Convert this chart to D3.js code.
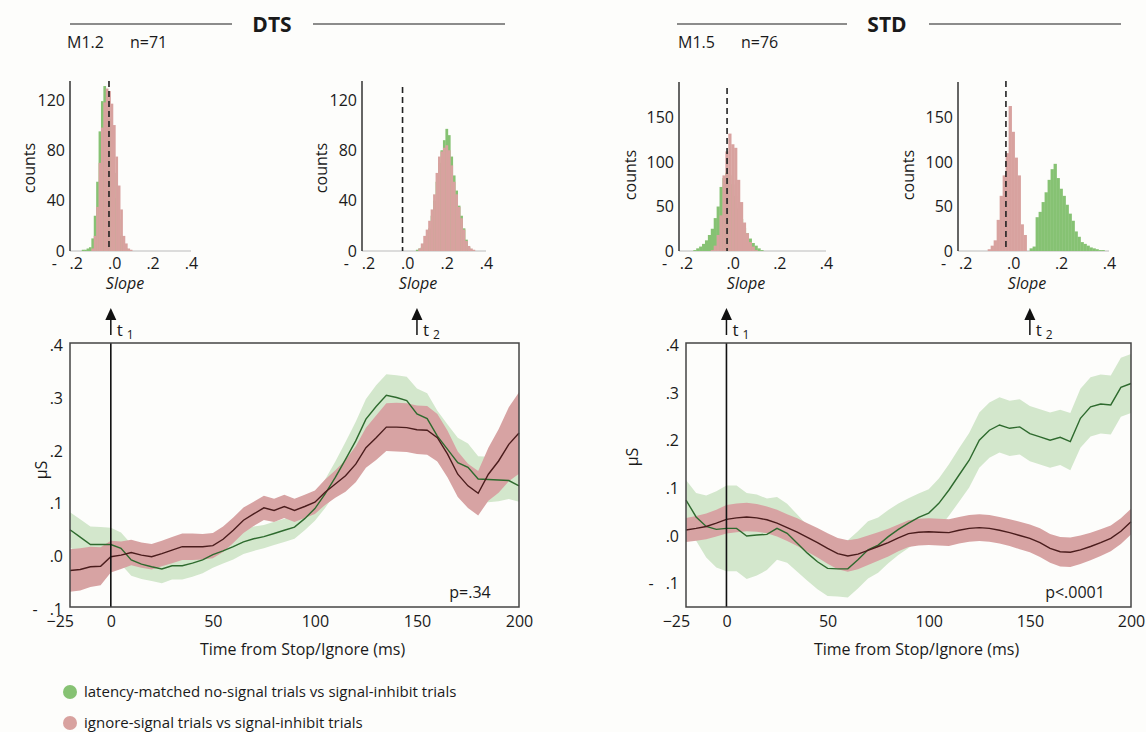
<!DOCTYPE html>
<html><head><meta charset="utf-8">
<script src="https://cdn.jsdelivr.net/npm/d3@7"></script>
<style>
body{margin:0;background:#fdfdfb}
text{font-family:"Open Sans",sans-serif;fill:#1a1a1a}
</style>
</head><body>
<svg id="c" width="1146" height="732"></svg>
<script>
// ---------- time-course data (µS) ----------
const timeMs = [-20,-15,-10,-5,0,5,10,15,20,25,30,35,40,45,50,55,60,65,70,75,80,85,90,95,100,105,110,115,120,125,130,135,140,145,150,155,160,165,170,175,180,185,190,195,200];

const dtsGreenMean = [0.051,0.037,0.023,0.023,0.023,0.016,-0.006,-0.014,-0.019,-0.023,-0.017,-0.017,-0.012,-0.006,0.004,0.011,0.019,0.028,0.034,0.038,0.044,0.050,0.056,0.072,0.091,0.119,0.150,0.184,0.219,0.260,0.284,0.305,0.301,0.295,0.270,0.261,0.228,0.203,0.178,0.169,0.147,0.146,0.145,0.144,0.134];
const dtsGreenErr  = [0.033,0.034,0.034,0.033,0.032,0.030,0.030,0.028,0.027,0.027,0.026,0.026,0.026,0.025,0.025,0.024,0.024,0.023,0.023,0.022,0.022,0.022,0.022,0.022,0.023,0.027,0.030,0.033,0.036,0.038,0.040,0.040,0.042,0.045,0.048,0.048,0.048,0.047,0.047,0.045,0.043,0.043,0.040,0.035,0.030];
const dtsPinkMean  = [-0.026,-0.024,-0.019,-0.018,0.000,0.003,0.008,0.003,0.000,0.006,0.0125,0.019,0.019,0.019,0.021,0.033,0.050,0.069,0.081,0.0925,0.0875,0.095,0.0875,0.095,0.103,0.122,0.1375,0.153,0.175,0.206,0.225,0.245,0.245,0.244,0.240,0.239,0.225,0.194,0.156,0.134,0.120,0.156,0.181,0.2125,0.234];
const dtsPinkErr   = [0.040,0.040,0.038,0.036,0.030,0.026,0.024,0.024,0.024,0.024,0.025,0.025,0.025,0.024,0.024,0.024,0.024,0.024,0.023,0.023,0.022,0.022,0.022,0.022,0.022,0.024,0.026,0.030,0.034,0.038,0.042,0.045,0.046,0.046,0.046,0.046,0.045,0.044,0.043,0.042,0.042,0.050,0.060,0.070,0.077];

const stdGreenMean = [0.0755,0.040,0.020,0.014,0.016,0.016,0.000,0.002,0.0035,0.016,0.0056,-0.015,-0.036,-0.054,-0.068,-0.069,-0.069,-0.050,-0.029,-0.019,-0.0014,0.014,0.027,0.039,0.048,0.0685,0.0965,0.128,0.159,0.201,0.222,0.233,0.226,0.229,0.215,0.208,0.201,0.207,0.198,0.247,0.271,0.277,0.275,0.312,0.320];
const stdGreenErr  = [0.042,0.050,0.065,0.080,0.090,0.090,0.090,0.085,0.075,0.066,0.062,0.060,0.058,0.058,0.058,0.058,0.060,0.060,0.060,0.058,0.056,0.054,0.052,0.050,0.050,0.052,0.054,0.056,0.057,0.058,0.058,0.058,0.058,0.058,0.058,0.058,0.058,0.058,0.060,0.062,0.062,0.062,0.062,0.062,0.062];
const stdPinkMean  = [0.0126,0.016,0.020,0.027,0.035,0.038,0.040,0.038,0.034,0.027,0.0175,0.008,-0.003,-0.014,-0.026,-0.037,-0.042,-0.038,-0.030,-0.022,-0.014,-0.004,0.005,0.008,0.009,0.008,0.007,0.012,0.016,0.0175,0.016,0.012,0.007,0.001,-0.005,-0.014,-0.026,-0.033,-0.034,-0.029,-0.022,-0.014,-0.005,0.010,0.030];
const stdPinkErr   = [0.025,0.026,0.027,0.028,0.030,0.030,0.030,0.029,0.028,0.028,0.028,0.029,0.030,0.031,0.032,0.033,0.033,0.032,0.031,0.030,0.029,0.028,0.028,0.028,0.028,0.028,0.028,0.028,0.028,0.028,0.028,0.028,0.028,0.029,0.029,0.030,0.030,0.031,0.031,0.030,0.029,0.028,0.027,0.027,0.027];

const timeTicks = [-25,0,50,100,150,200];
const dtsYTicks = [-0.1,0,0.1,0.2,0.3,0.4];
const stdYTicks = [-0.1,0,0.1,0.2,0.3,0.4];

// ---------- bootstrap slope histograms ----------
const slopeBins = [-0.175,-0.1625,-0.15,-0.1375,-0.125,-0.1125,-0.1,-0.0875,-0.075,-0.0625,-0.05,-0.0375,-0.025,-0.0125,0,0.0125,0.025,0.0375,0.05,0.0625,0.075,0.0875,0.1,0.1125,0.125,0.1375,0.15,0.1625,0.175,0.1875,0.2,0.2125,0.225,0.2375,0.25,0.2625,0.275,0.2875,0.3,0.3125,0.325,0.3375,0.35,0.3625,0.375,0.3875];
const binWidth = 0.0125;
const dtsT1Green = [0,1,1,2,3,10,28,55,95,119,131,118,105,85,62,42,25,12,5,2,0,0,0,0,0,0,0,0,0,0,0,0,0,0,0,0,0,0,0,0,0,0,0,0,0,0];
const dtsT1Pink  = [0,0,0,0,0,2,12,35,70,98,118,129,127,117,100,75,52,33,12,6,2,1,0,0,0,0,0,0,0,0,0,0,0,0,0,0,0,0,0,0,0,0,0,0,0,0];
const dtsT2Green = [0,0,0,0,0,0,0,0,0,0,0,0,0,0,0,0,0,0,1,2,3,6,12,18,28,40,55,70,80,88,97,92,75,60,48,36,28,18,9,3,1,0,0,0,0,0];
const dtsT2Pink  = [0,0,0,0,0,0,0,0,0,0,0,0,0,0,0,0,0,0,0,2,6,12,17,24,33,45,62,75,79,82,84,80,68,55,45,35,26,17,8,4,2,1,0,0,0,0];
const stdT1Green = [0,1,3,5,8,12,18,25,37,50,72,82,88,85,75,62,48,36,26,20,14,9,6,3,1,0,0,0,0,0,0,0,0,0,0,0,0,0,0,0,0,0,0,0,0,0];
const stdT1Pink  = [0,0,0,0,0,0,0,1,6,18,40,85,112,132,120,116,80,55,32,20,10,5,1,0,0,0,0,0,0,0,0,0,0,0,0,0,0,0,0,0,0,0,0,0,0,0];
const stdT2Green = [0,0,0,0,0,0,0,0,0,0,0,0,0,0,0,0,0,0,0,0,3,5,38,44,55,66,80,92,98,82,70,62,52,42,34,22,16,10,8,6,4,3,2,1,1,0];
const stdT2Pink  = [0,0,0,0,0,0,2,6,12,35,62,85,110,163,134,105,85,30,18,0,0,0,0,0,0,0,0,0,0,0,0,0,0,0,0,0,0,0,0,0,0,0,0,0,0,0];
const slopeTicks = [-0.2,0,0.2,0.4];
const dtsCountTicks = [0,40,80,120];
const stdCountTicks = [0,50,100,150];
const refSlope = [-0.027,-0.024,-0.024,-0.03];

const legendLabels = ["latency-matched no-signal trials vs signal-inhibit trials","ignore-signal trials vs signal-inhibit trials"];

// ---------- styling ----------
const C = {
  greenHist:"#86c273", pinkHist:"#d8a29f",
  greenBand:"#d3e7cc", pinkBand:"#d7a3a3",
  greenLine:"#2e6a2e", pinkLine:"#4a1c1c",
  axis:"#333", base:"#d0d0d0", frame:"#444"
};
const svg = d3.select("#c");
const fmtAbs = d => { const s = d3.format(".1f")(Math.abs(d)); return s.replace(/^0/,""); };

// ---------- histogram panel ----------
function drawHist(o){
  const g = svg.append("g");
  const xs = d3.scaleLinear().domain([-0.23,0.4]).range([o.x0,o.x1]);
  const ys = d3.scaleLinear().domain([0,o.yMax]).range([o.base,o.top]);
  g.append("line").attr("x1",o.x0).attr("x2",xs(0.4)).attr("y1",o.base).attr("y2",o.base)
    .attr("stroke",C.base).attr("stroke-width",1.5);
  [[o.green,C.greenHist],[o.pink,C.pinkHist]].forEach(([arr,col])=>{
    g.append("g").selectAll("rect").data(slopeBins.map((b,i)=>({b,c:arr[i]})).filter(d=>d.c>0))
      .join("rect")
      .attr("x",d=>xs(d.b-binWidth/2))
      .attr("width",d=>xs(d.b+binWidth/2)-xs(d.b-binWidth/2)+0.3)
      .attr("y",d=>ys(d.c)).attr("height",d=>o.base-ys(d.c))
      .attr("fill",col);
  });
  g.append("line").attr("x1",xs(o.dash)).attr("x2",xs(o.dash)).attr("y1",o.dashTop).attr("y2",o.base)
    .attr("stroke","#222").attr("stroke-width",1.6).attr("stroke-dasharray","6,4");
  g.append("line").attr("x1",o.x0).attr("x2",o.x0).attr("y1",o.base).attr("y2",o.top)
    .attr("stroke",C.axis).attr("stroke-width",1.5);
  const ya = g.append("g").attr("transform",`translate(${o.x0},0)`)
    .call(d3.axisLeft(ys).tickValues(o.yTicks).tickSize(0).tickPadding(5));
  ya.select(".domain").remove();
  ya.selectAll("text").attr("font-size",16).attr("fill","#1a1a1a").style("font-family","Open Sans");
  const xa = g.append("g").attr("transform",`translate(0,${o.base})`)
    .call(d3.axisBottom(xs).tickValues(slopeTicks).tickSize(0).tickPadding(7).tickFormat(fmtAbs));
  xa.select(".domain").remove();
  xa.selectAll("text").attr("font-size",16).attr("fill","#1a1a1a").style("font-family","Open Sans");
  xa.selectAll(".tick").filter(d=>d<0).append("text").text("-")
    .attr("x",-22).attr("y",7).attr("dy","0.71em").attr("text-anchor","middle")
    .attr("font-size",16).attr("fill","#1a1a1a");
  g.append("text").attr("transform",`translate(${o.countsX},${o.countsY}) rotate(-90)`)
    .attr("text-anchor","middle").attr("font-size",16).text("counts");
  g.append("text").attr("x",o.slopeX).attr("y",289).attr("text-anchor","middle")
    .attr("font-size",16).attr("font-style","italic").text("Slope");
}

drawHist({x0:70,x1:191,base:251,top:81,yMax:135,yTicks:dtsCountTicks,green:dtsT1Green,pink:dtsT1Pink,dash:refSlope[0],dashTop:81,countsX:35,countsY:168,slopeX:125});
drawHist({x0:362,x1:486,base:251,top:81,yMax:135,yTicks:dtsCountTicks,green:dtsT2Green,pink:dtsT2Pink,dash:refSlope[1],dashTop:87,countsX:327,countsY:168,slopeX:418});
drawHist({x0:679,x1:826,base:251,top:82,yMax:190,yTicks:stdCountTicks,green:stdT1Green,pink:stdT1Pink,dash:refSlope[2],dashTop:88,countsX:636,countsY:175,slopeX:746});
drawHist({x0:958,x1:1109,base:251,top:82,yMax:190,yTicks:stdCountTicks,green:stdT2Green,pink:stdT2Pink,dash:refSlope[3],dashTop:81,countsX:914,countsY:175,slopeX:1027});

// ---------- titles ----------
function title(cx, lx0, lx1, rx0, rx1, label, m, n){
  svg.append("line").attr("x1",lx0).attr("x2",lx1).attr("y1",24).attr("y2",24).attr("stroke","#666").attr("stroke-width",1.5);
  svg.append("line").attr("x1",rx0).attr("x2",rx1).attr("y1",24).attr("y2",24).attr("stroke","#666").attr("stroke-width",1.5);
  svg.append("text").attr("x",cx).attr("y",32).attr("text-anchor","middle").attr("font-size",21).attr("font-weight","bold").text(label);
  svg.append("text").attr("x",m[0]).attr("y",48).attr("font-size",16).text(m[1]);
  svg.append("text").attr("x",n[0]).attr("y",48).attr("font-size",16).text(n[1]);
}
title(272,70,232,313,505,"DTS",[67,"M1.2"],[130,"n=71"]);
title(887,677,847,929,1121,"STD",[678,"M1.5"],[741,"n=76"]);

// ---------- time-course panel ----------
function drawMain(o){
  const g = svg.append("g");
  const xs = d3.scaleLinear().domain([-20,200]).range([o.x0,o.x1]);
  const ys = d3.scaleLinear().domain(o.yDom).range([o.y1,o.y0]);
  const rows = (m,e)=>timeMs.map((t,i)=>({t,m:m[i],e:e[i]}));
  const area = d3.area().x(d=>xs(d.t)).y0(d=>ys(d.m-d.e)).y1(d=>ys(d.m+d.e));
  const line = d3.line().x(d=>xs(d.t)).y(d=>ys(d.m));
  const gr = rows(o.gm,o.ge), pk = rows(o.pm,o.pe);
  g.append("path").attr("d",area(gr)).attr("fill",C.greenBand);
  g.append("path").attr("d",area(pk)).attr("fill",C.pinkBand);
  g.append("path").attr("d",line(gr)).attr("fill","none").attr("stroke",C.greenLine).attr("stroke-width",1.4);
  g.append("path").attr("d",line(pk)).attr("fill","none").attr("stroke",C.pinkLine).attr("stroke-width",1.4);
  g.append("line").attr("x1",xs(0)).attr("x2",xs(0)).attr("y1",o.y0).attr("y2",o.y1).attr("stroke","#111").attr("stroke-width",1.6);
  g.append("rect").attr("x",o.x0).attr("y",o.y0).attr("width",o.x1-o.x0).attr("height",o.y1-o.y0)
    .attr("fill","none").attr("stroke",C.frame).attr("stroke-width",1.5);
  const xa = g.append("g").attr("transform",`translate(0,${o.y1})`)
    .call(d3.axisBottom(xs).tickValues(timeTicks).tickSize(0).tickPadding(9).tickFormat(d3.format("d")));
  xa.select(".domain").remove();
  xa.selectAll("text").attr("font-size",16).attr("fill","#1a1a1a").style("font-family","Open Sans");
  const ya = g.append("g").attr("transform",`translate(${o.x0},0)`)
    .call(d3.axisLeft(ys).tickValues(o.yTicks).tickSize(0).tickPadding(7).tickFormat(fmtAbs));
  ya.select(".domain").remove();
  ya.selectAll("text").attr("font-size",16).attr("fill","#1a1a1a").style("font-family","Open Sans");
  ya.selectAll(".tick").filter(d=>d<0).append("text").text("-")
    .attr("x",-35).attr("dy","0.32em").attr("text-anchor","middle").attr("font-size",16).attr("fill","#1a1a1a");
  g.append("text").attr("x",(o.x0+o.x1)/2+8).attr("y",655).attr("text-anchor","middle").attr("font-size",16)
    .text("Time from Stop/Ignore (ms)");
  g.append("text").attr("transform",`translate(${o.muX},${o.muY}) rotate(-90)`).attr("text-anchor","middle")
    .attr("font-size",16).text("µS");
  g.append("text").attr("x",o.pX).attr("y",598).attr("text-anchor","middle").attr("font-size",16).text(o.p);
  // time markers t1 (0 ms) and t2 (150 ms)
  [[0,"1"],[150,"2"]].forEach(([t,s])=>{
    const x = xs(t);
    g.append("line").attr("x1",x).attr("x2",x).attr("y1",335).attr("y2",318).attr("stroke","#111").attr("stroke-width",1.5);
    g.append("path").attr("d",`M${x},308L${x-5.5},320L${x+5.5},320Z`).attr("fill","#111");
    g.append("text").attr("x",x+6).attr("y",336).attr("font-size",17).text("t");
    g.append("text").attr("x",x+16).attr("y",339).attr("font-size",12).text(s);
  });
}
drawMain({x0:70,x1:519,y0:343,y1:607,yDom:[-0.095,0.404],yTicks:dtsYTicks,gm:dtsGreenMean,ge:dtsGreenErr,pm:dtsPinkMean,pe:dtsPinkErr,muX:47,muY:470,pX:470,p:"p=.34"});
drawMain({x0:686,x1:1131,y0:343,y1:607,yDom:[-0.149,0.405],yTicks:stdYTicks,gm:stdGreenMean,ge:stdGreenErr,pm:stdPinkMean,pe:stdPinkErr,muX:638,muY:457,pX:1075,p:"p<.0001"});

// ---------- legend ----------
const lg = svg.append("g");
legendLabels.forEach((l,i)=>{
  lg.append("circle").attr("cx",70).attr("cy",692+i*31).attr("r",7).attr("fill",i===0?C.greenHist:C.pinkHist);
  lg.append("text").attr("x",84).attr("y",697+i*31).attr("font-size",15).text(l);
});
</script>
</body></html>
